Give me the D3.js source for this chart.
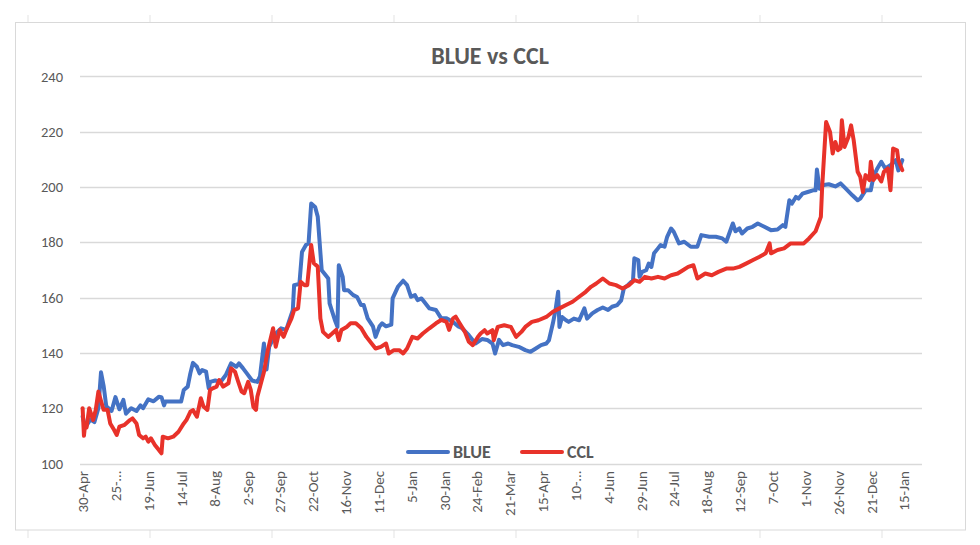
<!DOCTYPE html>
<html lang="es">
<head>
<meta charset="utf-8">
<title>BLUE vs CCL</title>
<script src="https://cdn.jsdelivr.net/npm/d3@7"></script>
<style>
  body { margin: 0; background: #fff; }
  text { font-family: Carlito, Lato, "Liberation Sans", sans-serif; fill: #595959; }
</style>
</head>
<body>
<div class="chart"></div>
<script>
// x axis labels, one every 25 days (Excel cut two of them)
const tickDates = ["2020-04-30","2020-05-25","2020-06-19","2020-07-14","2020-08-08","2020-09-02","2020-09-27",
  "2020-10-22","2020-11-16","2020-12-11","2021-01-05","2021-01-30","2021-02-24","2021-03-21","2021-04-15",
  "2021-05-10","2021-06-04","2021-06-29","2021-07-24","2021-08-18","2021-09-12","2021-10-07","2021-11-01",
  "2021-11-26","2021-12-21","2022-01-15"];
const tickLabels = ["30-Apr","25-…","19-Jun","14-Jul","8-Aug","2-Sep","27-Sep","22-Oct","16-Nov","11-Dec",
  "5-Jan","30-Jan","24-Feb","21-Mar","15-Apr","10-…","4-Jun","29-Jun","24-Jul","18-Aug","12-Sep","7-Oct",
  "1-Nov","26-Nov","21-Dec","15-Jan"];
const yTicks = [100, 120, 140, 160, 180, 200, 220, 240];

const blueDates = ["2020-04-30","2020-05-02","2020-05-06","2020-05-09","2020-05-12","2020-05-14","2020-05-16",
  "2020-05-18","2020-05-22","2020-05-25","2020-05-28","2020-05-31","2020-06-02","2020-06-06","2020-06-10",
  "2020-06-13","2020-06-15","2020-06-19","2020-06-23","2020-06-27","2020-06-29","2020-07-01","2020-07-02",
  "2020-07-14","2020-07-16","2020-07-19","2020-07-21","2020-07-23","2020-07-26","2020-07-28","2020-07-30",
  "2020-08-02","2020-08-04","2020-08-05","2020-08-09","2020-08-13","2020-08-17","2020-08-21","2020-08-25",
  "2020-08-27","2020-08-30","2020-09-02","2020-09-06","2020-09-10","2020-09-12","2020-09-15","2020-09-17",
  "2020-09-19","2020-09-24","2020-09-28","2020-10-02","2020-10-04","2020-10-07","2020-10-08","2020-10-12",
  "2020-10-14","2020-10-17","2020-10-19","2020-10-21","2020-10-24","2020-10-26","2020-10-29","2020-10-31",
  "2020-11-03","2020-11-04","2020-11-08","2020-11-10","2020-11-11","2020-11-14","2020-11-15","2020-11-18",
  "2020-11-22","2020-11-25","2020-11-28","2020-11-30","2020-12-03","2020-12-07","2020-12-09","2020-12-12",
  "2020-12-14","2020-12-17","2020-12-21","2020-12-22","2020-12-26","2020-12-30","2021-01-02","2021-01-05",
  "2021-01-08","2021-01-10","2021-01-13","2021-01-15","2021-01-19","2021-01-24","2021-01-28","2021-02-01",
  "2021-02-06","2021-02-10","2021-02-13","2021-02-18","2021-02-23","2021-02-28","2021-03-04","2021-03-08",
  "2021-03-10","2021-03-13","2021-03-16","2021-03-20","2021-03-23","2021-03-28","2021-04-02","2021-04-06",
  "2021-04-10","2021-04-14","2021-04-18","2021-04-20","2021-04-23","2021-04-25","2021-04-27","2021-04-28",
  "2021-04-30","2021-05-03","2021-05-05","2021-05-09","2021-05-13","2021-05-17","2021-05-19","2021-05-23",
  "2021-05-27","2021-05-31","2021-06-04","2021-06-07","2021-06-11","2021-06-14","2021-06-16","2021-06-19",
  "2021-06-23","2021-06-24","2021-06-27","2021-06-28","2021-06-30","2021-07-03","2021-07-05","2021-07-07",
  "2021-07-09","2021-07-12","2021-07-14","2021-07-17","2021-07-19","2021-07-22","2021-07-24","2021-07-28",
  "2021-08-01","2021-08-06","2021-08-11","2021-08-14","2021-08-20","2021-08-25","2021-08-30","2021-09-02",
  "2021-09-07","2021-09-09","2021-09-12","2021-09-14","2021-09-18","2021-09-22","2021-09-26","2021-10-01",
  "2021-10-06","2021-10-11","2021-10-15","2021-10-17","2021-10-20","2021-10-22","2021-10-25","2021-10-27",
  "2021-10-30","2021-11-03","2021-11-07","2021-11-09","2021-11-10","2021-11-12","2021-11-14","2021-11-19",
  "2021-11-24","2021-11-28","2021-12-02","2021-12-07","2021-12-11","2021-12-13","2021-12-17","2021-12-21",
  "2021-12-23","2021-12-26","2021-12-29","2022-01-01","2022-01-05","2022-01-09","2022-01-11","2022-01-14"];
const blueValues = [117,113,116,115,120,133,128,
  120.7,119,124,119.6,123,118,120,119,
  121,120,123.2,122.5,124.1,124,121,122.4,
  122.4,126.6,127.8,132.6,136.4,135,132.6,133.8,
  133.2,127.2,129.5,130,129.5,132,136.2,135,
  136.2,134.5,132.6,130,129.5,131.5,143.4,134,
  142.2,147,148.9,148.3,151.2,155.5,164.5,164.9,
  176.5,179,179.6,194,192.8,189.2,169.9,168.7,
  166.9,157.9,151.9,149.4,171.7,167.5,162.7,162.7,
  160.9,160.2,157.3,157.3,152.5,149.6,145.8,149.6,
  150.7,149.6,150.2,159.7,163.9,166.1,164.5,160.3,
  160.9,159.1,159.7,158.5,156.1,155.5,152.5,152.5,
  151.2,149.6,148.9,146.4,143.4,145,144.7,143.4,
  139.8,144.7,142.8,143.4,142.8,142.2,141,140.4,
  141.6,142.8,143.4,144.6,150.7,155.5,162.1,149.4,
  153,151.8,151.2,152.4,151.8,156.1,152.4,154.3,
  155.5,156.4,155.5,156.7,157.3,159,163.3,164.5,
  166.3,174.2,173.6,167.5,169.3,169.9,172.3,171.1,
  176,177.8,179,178.4,182,185,183.8,179.6,
  180.2,178.4,178.4,182.6,182,182,181.4,180.2,
  186.8,184,185,183.2,185,185.6,186.8,185.6,
  184.4,184.6,186.2,185.6,195.2,194,196.4,195.8,
  197.6,198.2,198.8,198.8,206.3,199.4,200.6,201,
  200.2,201.3,199.4,197,195.2,195.8,198.8,198.8,
  203.7,206.7,209.1,206.7,207.9,209.7,206,209.7];

const cclDates = ["2020-04-30","2020-05-01","2020-05-02","2020-05-03","2020-05-05","2020-05-07","2020-05-08",
  "2020-05-10","2020-05-12","2020-05-14","2020-05-16","2020-05-19","2020-05-21","2020-05-24","2020-05-26",
  "2020-05-28","2020-06-01","2020-06-05","2020-06-07","2020-06-10","2020-06-12","2020-06-15","2020-06-17",
  "2020-06-19","2020-06-21","2020-06-24","2020-06-26","2020-06-29","2020-06-30","2020-07-04","2020-07-08",
  "2020-07-12","2020-07-16","2020-07-18","2020-07-21","2020-07-23","2020-07-26","2020-07-29","2020-07-31",
  "2020-08-03","2020-08-05","2020-08-07","2020-08-10","2020-08-12","2020-08-15","2020-08-19","2020-08-21",
  "2020-08-24","2020-08-26","2020-08-29","2020-08-31","2020-09-03","2020-09-05","2020-09-07","2020-09-09",
  "2020-09-10","2020-09-13","2020-09-15","2020-09-18","2020-09-22","2020-09-24","2020-09-27","2020-09-30",
  "2020-10-02","2020-10-06","2020-10-08","2020-10-11","2020-10-13","2020-10-16","2020-10-18","2020-10-21",
  "2020-10-23","2020-10-26","2020-10-28","2020-10-30","2020-11-03","2020-11-06","2020-11-09","2020-11-11",
  "2020-11-13","2020-11-17","2020-11-20","2020-11-24","2020-11-28","2020-12-02","2020-12-06","2020-12-09",
  "2020-12-13","2020-12-17","2020-12-19","2020-12-23","2020-12-27","2020-12-30","2021-01-02","2021-01-06",
  "2021-01-10","2021-01-14","2021-01-19","2021-01-24","2021-01-28","2021-02-01","2021-02-03","2021-02-06",
  "2021-02-08","2021-02-11","2021-02-15","2021-02-18","2021-02-21","2021-02-25","2021-02-27","2021-03-02",
  "2021-03-04","2021-03-08","2021-03-09","2021-03-12","2021-03-17","2021-03-22","2021-03-26","2021-03-30",
  "2021-04-02","2021-04-07","2021-04-12","2021-04-18","2021-04-23","2021-04-28","2021-05-03","2021-05-08",
  "2021-05-13","2021-05-18","2021-05-22","2021-05-26","2021-05-31","2021-06-05","2021-06-10","2021-06-15",
  "2021-06-20","2021-06-24","2021-06-28","2021-07-02","2021-07-07","2021-07-12","2021-07-17","2021-07-22",
  "2021-07-27","2021-07-31","2021-08-04","2021-08-08","2021-08-11","2021-08-17","2021-08-22","2021-08-27",
  "2021-09-02","2021-09-07","2021-09-12","2021-09-17","2021-09-22","2021-09-27","2021-10-02","2021-10-05",
  "2021-10-06","2021-10-11","2021-10-16","2021-10-21","2021-10-26","2021-10-31","2021-11-04","2021-11-09",
  "2021-11-13","2021-11-14","2021-11-16","2021-11-17","2021-11-20","2021-11-22","2021-11-24","2021-11-26",
  "2021-11-28","2021-11-29","2021-12-01","2021-12-04","2021-12-06","2021-12-08","2021-12-11","2021-12-13",
  "2021-12-15","2021-12-17","2021-12-20","2021-12-21","2021-12-23","2021-12-26","2021-12-29","2021-12-31",
  "2022-01-03","2022-01-05","2022-01-07","2022-01-10","2022-01-11","2022-01-14"];
const cclValues = [120,110,114.5,113,120,117.1,115.7,
  119.4,126,122.6,119.4,119.4,114.5,112.1,110.3,
  113.3,114,115.7,116.3,114.5,110.3,109.1,109.7,
  107.9,109.1,106.7,105.5,103.7,109.7,109.1,109.7,
  111.5,114.5,115.7,118.7,119.3,116.9,123.6,120.6,
  119.4,126.6,127.2,127.8,130.2,127.8,129,134.4,
  133.2,130.2,126,125.4,129.5,126.6,120.5,119.4,
  124.1,129.5,133,141,148.9,142.2,148.3,145.8,
  148.3,152.5,155.5,156.1,165.7,164.5,164.5,179,
  172.4,171.2,152.5,147.6,145.8,147,148.3,144.6,
  148.3,149.4,150.7,150.7,149,145.8,143.4,141.6,
  142.2,143.4,139.8,141,141,139.8,141.6,145.8,
  145.2,147,148.9,150.7,151.9,151.2,148.3,152.5,
  153.1,150.7,147.6,144,142.8,145.8,147,148.2,
  147,148.2,144.6,149.4,150,149.4,145.8,147.6,
  149.4,151.2,151.8,153,154.9,156.1,157.3,158.5,
  160.3,162.1,163.9,165.1,166.9,165.1,164.5,163.3,
  164.5,166.3,165.7,167.5,166.9,167.5,166.9,168.1,
  168.7,169.9,171.1,171.7,166.9,168.7,168.1,169.3,
  170.5,170.5,171.1,172.3,173.5,174.7,176,179.6,
  176,177.2,177.8,179.6,179.6,179.6,181.4,184,
  189.2,200,215.7,223.5,219.9,212.1,216.3,213.3,
  214,224.1,214.5,218.1,222.3,216.9,205.5,203.7,
  198.2,204.3,202.5,209.1,202.5,204.3,202,205.5,
  206.7,198.8,213.9,213.3,209.7,206.1];

const series = [
  { name: "BLUE", color: "#4472C4", dates: blueDates, values: blueValues },
  { name: "CCL", color: "#E8322A", dates: cclDates, values: cclValues }
];

const width = 980, height = 545;
const parse = d3.timeParse("%Y-%m-%d");

const svg = d3.select(".chart").append("svg")
  .attr("width", width)
  .attr("height", height);

svg.append("rect").attr("width", width).attr("height", height).attr("fill", "#fff");

// faint spreadsheet cell marks around the chart object
const cellX = d3.range(28, 960, 122);
svg.selectAll(".cellTop").data(cellX).enter().append("line")
  .attr("x1", d => d).attr("x2", d => d).attr("y1", 15).attr("y2", 22)
  .attr("stroke", "#e3e3e3");
svg.selectAll(".cellBot").data(cellX).enter().append("line")
  .attr("x1", d => d).attr("x2", d => d).attr("y1", 530).attr("y2", 538)
  .attr("stroke", "#e3e3e3");

// chart border
svg.append("rect")
  .attr("x", 15.5).attr("y", 22.5)
  .attr("width", 950).attr("height", 507.5)
  .attr("fill", "none")
  .attr("stroke", "#d9d9d9");

const xScale = d3.scaleTime()
  .domain([parse("2020-04-28"), parse("2022-01-29")])
  .range([80, 922]);

const yScale = d3.scaleLinear()
  .domain([100, 240])
  .range([463.5, 76.4]);

// gridlines
svg.selectAll(".grid").data(yTicks).enter().append("line")
  .attr("x1", 80).attr("x2", 922)
  .attr("y1", d => Math.round(yScale(d)) + 0.5)
  .attr("y2", d => Math.round(yScale(d)) + 0.5)
  .attr("stroke", "#d9d9d9")
  .attr("stroke-width", 1.3);

// y labels
const yAxis = d3.axisLeft(yScale).tickValues(yTicks).tickSize(0).tickPadding(17);
const gy = svg.append("g").attr("transform", "translate(80,0)").call(yAxis);
gy.select(".domain").remove();
gy.selectAll("text").attr("font-size", "14.5px").style("fill", "#595959")
  .style("font-family", "Carlito, Lato, sans-serif");

// x labels (rotated)
const xAxis = d3.axisBottom(xScale)
  .tickValues(tickDates.map(parse))
  .tickFormat((d, i) => tickLabels[i])
  .tickSize(0);
const gx = svg.append("g").attr("transform", "translate(0,463)").call(xAxis);
gx.select(".domain").remove();
gx.selectAll("text")
  .attr("font-size", "15px")
  .style("fill", "#595959")
  .style("font-family", "Carlito, Lato, sans-serif")
  .attr("text-anchor", "end")
  .attr("transform", "rotate(-90)")
  .attr("x", -8)
  .attr("y", 0)
  .attr("dy", "0.35em");

// lines
const line = d3.line()
  .x(d => xScale(d.date))
  .y(d => yScale(d.value));

series.forEach(s => {
  const pts = s.dates.map((d, i) => ({ date: parse(d), value: s.values[i] }));
  svg.append("path")
    .datum(pts)
    .attr("fill", "none")
    .attr("stroke", s.color)
    .attr("stroke-width", 4)
    .attr("stroke-linejoin", "round")
    .attr("stroke-linecap", "round")
    .attr("d", line);
});

// title
svg.append("text")
  .attr("x", 490).attr("y", 64)
  .attr("text-anchor", "middle")
  .attr("font-size", "24px")
  .attr("font-weight", "bold")
  .text("BLUE vs CCL");

// legend
const legendX = [408, 522];
const lg = svg.selectAll(".legend").data(series).enter().append("g")
  .attr("transform", (d, i) => `translate(${legendX[i]},452)`);
lg.append("line")
  .attr("x1", 0).attr("x2", 40).attr("y1", 0).attr("y2", 0)
  .attr("stroke", d => d.color)
  .attr("stroke-width", 4)
  .attr("stroke-linecap", "round");
lg.append("text")
  .attr("x", 45).attr("y", 0).attr("dy", "0.35em")
  .attr("font-size", "18px")
  .attr("font-weight", "bold")
  .text(d => d.name);
</script>
</body>
</html>
